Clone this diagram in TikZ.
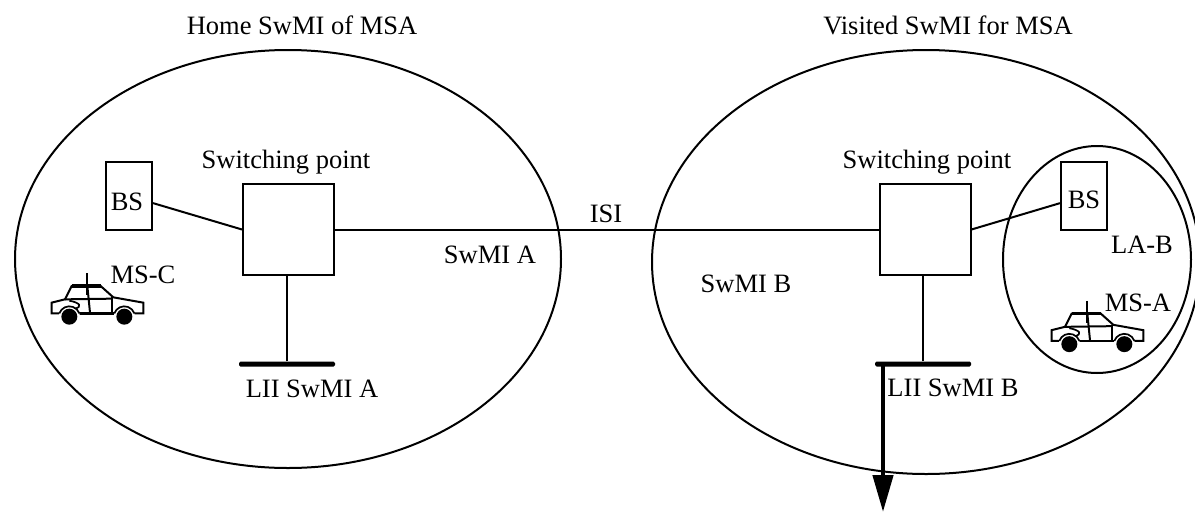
\documentclass[tikz,border=0pt]{standalone}
\usepackage{fontspec}
\setmainfont{Liberation Serif}
\usetikzlibrary{arrows.meta}
\usetikzlibrary{shapes.geometric}
\tikzset{l/.style={anchor=base,inner sep=0pt}}
\tikzset{zone/.style={draw,ellipse,line width=2pt,inner sep=0pt}}
\tikzset{sw/.style={draw,rectangle,line width=2pt,inner sep=0pt,minimum width=91pt,minimum height=91pt}}
\tikzset{bs/.style={draw,rectangle,line width=2pt,inner sep=0pt,minimum width=46pt,minimum height=68pt}}
\tikzset{bar/.style={fill,rectangle,rounded corners=1.5pt,inner sep=0pt,minimum width=96pt,minimum height=5pt}}
\tikzset{every edge/.append style={line width=2pt}}
\tikzset{car/.pic={
  \draw [line width=2pt] (172,40)--(172,105);
  \draw [line width=2pt] (95,160)--(65,160)--(65,128)--(105,118)--(125,78)--(212,78)--(250,112)--(340,128)--(340,160)--(305,160);
  \draw [line width=3.4pt] (125,78)--(212,78);
  \draw [line width=2.4pt] (140,160)--(262,160);
  \draw [line width=2pt] (172,78)--(180,158);
  \draw [line width=2pt] (105,118)--(245,116);
  \draw [line width=2pt] (245,112)--(245,158);
  \draw [line width=1.7pt] (118,122) .. controls (150,128) and (158,140) .. (135,146);
  \foreach \wx in {118,283} {
    \fill [white] (\wx,170) circle (32);
    \draw [line width=1.7pt] (\wx-30,160) arc (200:340:32);
    \fill (\wx,170) circle (24);
  }
}}

\begin{document}
\begin{tikzpicture}[x=1pt,y=-1pt]
        \useasboundingbox (0,0) rectangle (1195,512);
        \begin{scope}[font=\fontsize{26.5}{26.5}\selectfont]
          \node [zone, minimum width=546pt, minimum height=418pt] (HZ) at (288,259) {};
          \node [zone, minimum width=548pt, minimum height=424pt] (VZ) at (926,262) {};
          \node [zone, minimum width=188pt, minimum height=227pt] (LA) at (1097,259.5) {};
          \node [sw] (SPA) at (288.5,229.5) {};
          \node [sw] (SPB) at (925,229.5) {}
            edge (SPA.east);
          \node [bs] (BSA) at (129,196) {}
            edge (SPA.west);
          \node [bs] (BSB) at (1084,196) {}
            edge (SPB.east);
          \node [bar] (LIA) at (287,364) {}
            edge (LIA |- SPA.south);
          \node [bar] (LIB) at (923,364) {}
            edge (LIB |- SPB.south);
          \coordinate (T) at (883,364);
          \coordinate (E) at (883,512);
          \draw [-{Triangle[length=37pt,width=20pt]}, line width=4.5pt] (T)--(E);
          \pic at (30,260) [scale=1/3] {car};
          \pic at (1030,287.5) [scale=1/3] {car};
          \node [l] (HT) at (302,34) {Home SwMI of MSA};
          \node [l] (VT) at (948,34) {Visited SwMI for MSA};
          \node [l] (SA) at (286,168) {Switching point};
          \node [l] (SB) at (927,168) {Switching point};
          \node [l] (BA) at (127,210) {BS};
          \node [l] (BB) at (1084,208) {BS};
          \node [l] (IS) at (606,222) {ISI};
          \node [l] (ZA) at (490,263) {SwMI A};
          \node [l] (ZB) at (746,292) {SwMI B};
          \node [l] (LT) at (312,397) {LII SwMI A};
          \node [l] (LU) at (953,396) {LII SwMI B};
          \node [l] (MC) at (143,283) {MS-C};
          \node [l] (MA) at (1138,311) {MS-A};
          \node [l] (LB) at (1142,253) {LA-B};
        \end{scope}
      \end{tikzpicture}
\end{document}
